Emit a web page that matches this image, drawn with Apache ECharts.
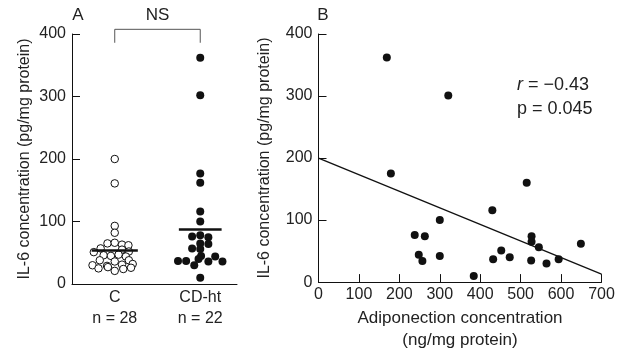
<!DOCTYPE html>
<html>
<head>
<meta charset="utf-8">
<script src="https://cdn.jsdelivr.net/npm/echarts@6/dist/echarts.min.js"></script>
<style>
  html, body { margin: 0; padding: 0; background: #fff; }
  #chart { width: 623px; height: 356px; }
</style>
</head>
<body>
<div id="chart"></div>
<script>
// panel A: groups
const groups = ["C", "CD-ht"];
const counts = [28, 22];
const groupMeans = [54, 88];

// controls (open circles), value + small horizontal jitter in group units
const cVals = [200, 161, 93, 82,
  65, 66, 63, 62,
  57, 55, 52, 51,
  46, 45, 47, 44,
  38, 36, 38,
  30, 29, 31, 32,
  25, 27, 24, 26, 21];
const cJit = [0, 0, 0, 0,
  -0.085, 0, 0.085, 0.16,
  -0.165, 0.085, 0.165, -0.245,
  -0.13, -0.045, 0.045, 0.13,
  -0.175, 0, 0.165,
  -0.26, -0.09, 0.085, 0.21,
  -0.19, -0.08, 0.1, 0.19, 0];

// CD-ht (filled)
const hVals = [362, 302, 177, 162, 116, 100,
  76, 78, 75,
  65, 64,
  57, 56,
  45, 40,
  37, 37, 30, 36, 44, 36,
  10];
const hJit = [0, 0, 0, 0, 0, 0,
  -0.095, 0, 0.095,
  0, 0.095,
  -0.095, 0,
  0.01, -0.02,
  -0.26, -0.165, -0.07, 0.095, 0.175, 0.26,
  0];

// panel B: adiponectin vs IL-6
const adipo = [169, 321, 179, 515, 430, 300, 238, 263, 527, 527, 545, 649, 452, 248, 300, 257, 473, 432, 526, 594, 564, 384];
const il6 = [362, 301, 175, 160, 116, 100, 76, 74, 74, 65, 56, 62, 51, 44, 42, 34, 40, 37, 35, 37, 30, 10];
const regX = [0, 700];
const regY = [200, 13];

const FONT = "Liberation Sans";
const TXT = "#222";

const chart = echarts.init(document.getElementById("chart"));

const axisLine = { show: true, lineStyle: { color: "#111", width: 1 } };
const yAxisBase = {
  type: "value", min: 0, max: 400, interval: 100,
  axisLine: axisLine,
  axisTick: { show: true, inside: true, length: 8, lineStyle: { color: "#111" } },
  axisLabel: { color: TXT, fontSize: 16, fontFamily: FONT, margin: 6 },
  splitLine: { show: false },
  name: "IL-6 concentration (pg/mg protein)",
  nameLocation: "middle",
  nameTextStyle: { color: TXT, fontSize: 16, fontFamily: FONT }
};

chart.setOption({
  animation: false,
  backgroundColor: "#fff",
  grid: [
    { left: 72, top: 34, width: 165, height: 250 },
    { left: 318.5, top: 34, width: 283, height: 250 }
  ],
  xAxis: [
    {
      gridIndex: 0, type: "value", min: 0.5, max: 2.43, interval: 0.5,
      axisLine: axisLine,
      axisTick: { show: false },
      splitLine: { show: false },
      axisLabel: {
        showMaxLabel: false,
        color: TXT, fontSize: 16, fontFamily: FONT, lineHeight: 21, margin: 3,
        formatter: v => {
          const i = Math.round(v) - 1;
          if (Math.abs(v - Math.round(v)) > 1e-6 || i < 0 || i >= groups.length) return "";
          return groups[i] + "\nn = " + counts[i];
        }
      }
    },
    {
      gridIndex: 1, type: "value", min: 0, max: 700, interval: 100,
      axisLine: axisLine,
      axisTick: { show: true, inside: true, length: 8, lineStyle: { color: "#111" } },
      axisLabel: { color: TXT, fontSize: 16, fontFamily: FONT, margin: 4 },
      splitLine: { show: false },
      name: "Adiponection concentration\n(ng/mg protein)",
      nameLocation: "middle", nameGap: 23,
      nameTextStyle: { color: TXT, fontSize: 17, fontFamily: FONT, lineHeight: 22 }
    }
  ],
  yAxis: [
    Object.assign({}, yAxisBase, { gridIndex: 0, nameGap: 39 }),
    Object.assign({}, yAxisBase, { gridIndex: 1, nameGap: 46 })
  ],
  series: [
    {
      type: "scatter", xAxisIndex: 0, yAxisIndex: 0,
      symbol: "circle", symbolSize: 7.5,
      itemStyle: { color: "#fff", borderColor: "#111", borderWidth: 1, opacity: 1 },
      data: cVals.map((v, i) => [1 + cJit[i], v]),
      markLine: {
        silent: true, symbol: "none", label: { show: false },
        lineStyle: { color: "#111", width: 2.5, type: "solid" },
        data: [[{ coord: [1 - 0.27, groupMeans[0]] }, { coord: [1 + 0.27, groupMeans[0]] }]]
      }
    },
    {
      type: "scatter", xAxisIndex: 0, yAxisIndex: 0,
      symbol: "circle", symbolSize: 8,
      itemStyle: { color: "#111", opacity: 1 },
      data: hVals.map((v, i) => [2 + hJit[i], v]),
      markLine: {
        silent: true, symbol: "none", label: { show: false },
        lineStyle: { color: "#111", width: 2.5, type: "solid" },
        data: [[{ coord: [2 - 0.25, groupMeans[1]] }, { coord: [2 + 0.25, groupMeans[1]] }]]
      }
    },
    {
      type: "line", xAxisIndex: 1, yAxisIndex: 1,
      symbol: "none", lineStyle: { color: "#111", width: 1.3 },
      data: regX.map((x, i) => [x, regY[i]])
    },
    {
      type: "scatter", xAxisIndex: 1, yAxisIndex: 1,
      symbol: "circle", symbolSize: 8,
      itemStyle: { color: "#111", opacity: 1 },
      data: adipo.map((x, i) => [x, il6[i]])
    }
  ]
});

// bracket over panel A, placed with the axis scale
const bl = chart.convertToPixel({ gridIndex: 0 }, [1, 386]);
const br = chart.convertToPixel({ gridIndex: 0 }, [2, 386]);
const bt = chart.convertToPixel({ gridIndex: 0 }, [1, 407.5]);

chart.setOption({
  graphic: [
    {
      type: "polyline",
      shape: { points: [[bl[0], bl[1]], [bl[0], bt[1]], [br[0], bt[1]], [br[0], br[1]]] },
      style: { stroke: "#555", lineWidth: 1, fill: null }
    },
    { type: "text", x: (bl[0] + br[0]) / 2, y: 15,
      style: { text: "NS", fill: TXT, font: "17px " + FONT, textAlign: "center", textVerticalAlign: "middle" } },
    { type: "text", x: 78, y: 15,
      style: { text: "A", fill: TXT, font: "17px " + FONT, textAlign: "center", textVerticalAlign: "middle" } },
    { type: "text", x: 323, y: 15,
      style: { text: "B", fill: TXT, font: "17px " + FONT, textAlign: "center", textVerticalAlign: "middle" } },
    { type: "text", left: 517, top: 73,
      style: {
        text: "{i|r} = \u22120.43\np = 0.045",
        fill: TXT, font: "18px " + FONT, lineHeight: 24,
        rich: { i: { fontStyle: "italic", fontSize: 18, fontFamily: FONT, fill: TXT } }
      } }
  ]
});
</script>
</body>
</html>
